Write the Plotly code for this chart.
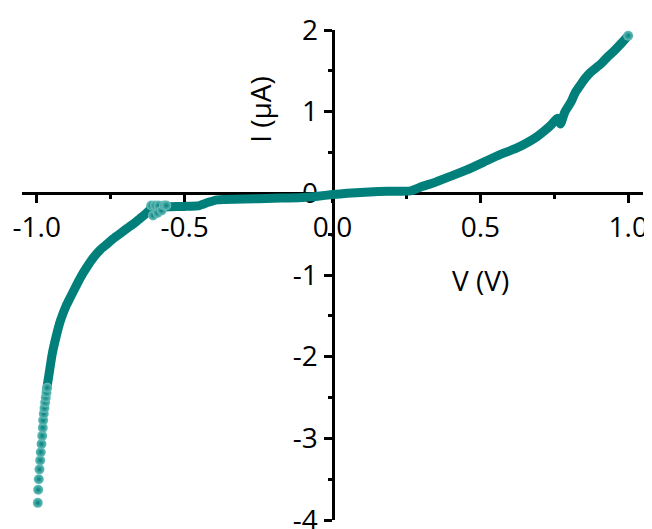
import plotly.graph_objects as go

# Main I-V curve (dense measurement, drawn as a thick band)
v_main = [-0.968, -0.960, -0.948, -0.935, -0.920, -0.900, -0.886, -0.868, -0.852, -0.830,
          -0.807, -0.785, -0.762, -0.740, -0.717, -0.695, -0.672, -0.655, -0.638, -0.620,
          -0.612, -0.600, -0.580, -0.550, -0.500, -0.450, -0.420, -0.390, -0.368, -0.300,
          -0.200, -0.100, -0.050, 0.000, 0.050, 0.140, 0.200, 0.264, 0.300, 0.343,
          0.400, 0.456, 0.510, 0.568, 0.620, 0.658, 0.690, 0.715, 0.740, 0.760,
          0.771, 0.785, 0.805, 0.822, 0.839, 0.855, 0.872, 0.906, 0.930, 0.951,
          0.975, 1.000]
i_main = [-2.43, -2.25, -1.97, -1.76, -1.56, -1.37, -1.27, -1.14, -1.03, -0.90,
          -0.78, -0.69, -0.62, -0.55, -0.49, -0.43, -0.37, -0.32, -0.27, -0.21,
          -0.17, -0.18, -0.17, -0.165, -0.16, -0.15, -0.11, -0.08, -0.075, -0.07,
          -0.06, -0.05, -0.035, -0.015, 0.00, 0.02, 0.025, 0.03, 0.08, 0.13,
          0.21, 0.29, 0.38, 0.477, 0.55, 0.62, 0.69, 0.76, 0.84, 0.92,
          0.85, 0.99, 1.11, 1.24, 1.33, 1.41, 1.48, 1.58, 1.67, 1.74,
          1.83, 1.93]

# Sparse points visible as separate beads
v_beads = [-0.9966, -0.9953, -0.9932, -0.9909, -0.9885, -0.9865, -0.9841, -0.9817,
           -0.9797, -0.9784, -0.9763, -0.9740, -0.9716, -0.9696, -0.9672, -0.9648,
           -0.613, -0.607, -0.600, -0.592, -0.588, -0.578, -0.570, -0.562, 1.000]
i_beads = [-3.79, -3.63, -3.50, -3.38, -3.27, -3.17, -3.07, -2.97,
           -2.87, -2.78, -2.70, -2.63, -2.56, -2.50, -2.44, -2.38,
           -0.15, -0.27, -0.15, -0.24, -0.15, -0.21, -0.15, -0.15, 1.93]

x_ticks = [-1.0, -0.5, 0.0, 0.5, 1.0]
x_ticktext = ["-1.0", "-0.5", "0.0", "0.5", "1.0"]
x_minor = [-0.75, -0.25, 0.25, 0.75]
y_ticks = [-4, -3, -2, -1, 0, 1, 2]
y_ticktext = ["-4", "-3", "-2", "-1", "0", "1", "2"]
y_minor = [-3.5, -2.5, -1.5, -0.5, 0.5, 1.5]

x_range = [-1.05, 1.05]
y_range = [-4, 2]

teal = "#017F7B"
font_family = "Open Sans, Lato, sans-serif"

fig = go.Figure()
fig.add_trace(go.Scatter(
    x=v_main, y=i_main, mode="lines",
    line=dict(color=teal, width=9, shape="spline", smoothing=0.5),
    showlegend=False, hoverinfo="skip"))
fig.add_trace(go.Scatter(
    x=v_beads, y=i_beads, mode="markers",
    marker=dict(size=10, color="#6cc0bb",
                gradient=dict(type="radial", color=teal),
                line=dict(width=0)),
    showlegend=False, hoverinfo="skip"))

axis_common = dict(
    showline=True, linecolor="black", linewidth=3,
    ticks="outside", ticklen=8, tickwidth=3, tickcolor="black",
    showgrid=False, zeroline=False, automargin=False,
    tickfont=dict(family=font_family, size=28, color="black"),
    ticklabeloverflow="allow",
    layer="below traces", anchor="free",
)

fig.update_layout(
    width=652, height=529,
    margin=dict(l=14, r=17, t=22, b=17),
    paper_bgcolor="white", plot_bgcolor="white",
    xaxis=dict(
        range=x_range, tickmode="array", tickvals=x_ticks, ticktext=x_ticktext,
        minor=dict(tickmode="array", tickvals=x_minor, ticks="outside",
                   ticklen=4, tickwidth=3, tickcolor="black"),
        position=(0 - y_range[0]) / (y_range[1] - y_range[0]),
        **axis_common),
    yaxis=dict(
        range=y_range, tickmode="array", tickvals=y_ticks, ticktext=y_ticktext,
        minor=dict(tickmode="array", tickvals=y_minor, ticks="outside",
                   ticklen=4, tickwidth=3, tickcolor="black"),
        position=(0 - x_range[0]) / (x_range[1] - x_range[0]),
        **axis_common),
    annotations=[
        dict(text="V (V)", x=0.5, y=-1.06, xref="x", yref="y", showarrow=False,
             font=dict(family=font_family, size=28, color="black")),
        dict(text="I (μA)", x=-0.243, y=1.03, xref="x", yref="y", showarrow=False,
             textangle=-90, font=dict(family=font_family, size=28, color="black")),
    ],
)

fig.write_html("out.html")
